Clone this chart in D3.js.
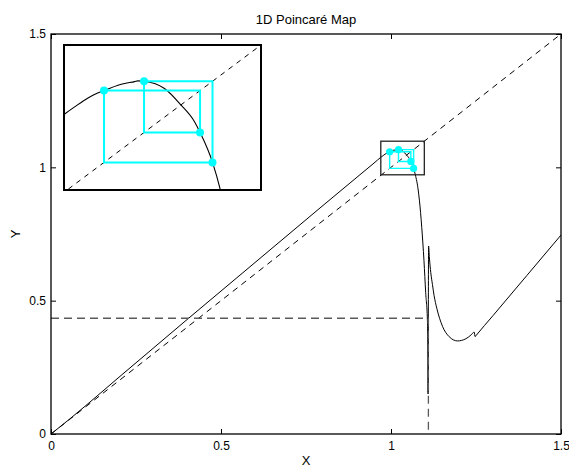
<!DOCTYPE html>
<html>
<head>
<meta charset="utf-8">
<script src="https://cdn.jsdelivr.net/npm/d3@7"></script>
<style>
  html, body { margin: 0; padding: 0; background: #fff; }
  svg { display: block; font-family: "Liberation Sans", Arial, Helvetica, sans-serif; }
</style>
</head>
<body>
<svg id="chart" width="569" height="470"></svg>
<script>
// Return map x_{n+1} = f(x_n), sampled along x
const mapX = [0, 0.05, 0.1, 0.2, 0.3, 0.4, 0.5, 0.6, 0.7, 0.8, 0.9, 0.95, 0.97, 0.9769, 0.9856,
  0.996, 1.0072, 1.0159, 1.018, 1.022, 1.0353, 1.0461, 1.0548, 1.0584, 1.0665, 1.0716, 1.080,
  1.087, 1.0904, 1.097, 1.102, 1.107, 1.1085, 1.109, 1.1105, 1.113, 1.117, 1.122, 1.1266, 1.135,
  1.1514, 1.171, 1.1956, 1.220, 1.235, 1.2446, 1.2475, 1.250, 1.30, 1.40, 1.5];
const mapY = [0, 0.051, 0.104, 0.213, 0.321, 0.429, 0.536, 0.643, 0.750, 0.857, 0.963, 1.016, 1.0376, 1.0442, 1.052,
  1.0584, 1.0639, 1.0662, 1.0668, 1.0665, 1.0602, 1.0457, 1.0313, 1.022, 0.996, 0.972, 0.915,
  0.83, 0.775, 0.65, 0.53, 0.43, 0.30, 0.15, 0.705, 0.66, 0.605, 0.56, 0.52, 0.47,
  0.404, 0.365, 0.349, 0.357, 0.371, 0.382, 0.365, 0.369, 0.444, 0.595, 0.746];

// Period-4 orbit, in visiting order (each value maps to the next)
const orbit = [0.996, 1.0584, 1.022, 1.0665];

// Magnified window around the orbit
const zoomX = [0.970, 1.098];
const zoomY = [0.972, 1.098];

// Dashed guide lines
const guideX = 1.11;
const guideY = 0.434;

const axisTicks = [0, 0.5, 1, 1.5];
const tickLabels = ["0", "0.5", "1", "1.5"];

const titleText = "1D Poincaré Map";
const xLabel = "X";
const yLabel = "Y";

// ---- layout ----
const plot = { left: 51, right: 561, top: 34, bottom: 434 };
const inset = { left: 64, right: 261, top: 45, bottom: 190 };

const svg = d3.select("#chart");

const x = d3.scaleLinear().domain([0, 1.5]).range([plot.left, plot.right]);
const y = d3.scaleLinear().domain([0, 1.5]).range([plot.bottom, plot.top]);

const defs = svg.append("defs");
defs.append("clipPath").attr("id", "clipMain").append("rect")
  .attr("x", plot.left).attr("y", plot.top)
  .attr("width", plot.right - plot.left).attr("height", plot.bottom - plot.top);
defs.append("clipPath").attr("id", "clipInset").append("rect")
  .attr("x", inset.left).attr("y", inset.top)
  .attr("width", inset.right - inset.left).attr("height", inset.bottom - inset.top);

const mapPoints = mapX.map((v, i) => [v, mapY[i]]);

// cobweb path through the orbit: (x0,x1)->(x1,x1)->(x1,x2)->...
function cobweb(o) {
  const pts = [];
  for (let i = 0; i < o.length; i++) {
    const a = o[i], b = o[(i + 1) % o.length], c = o[(i + 2) % o.length];
    if (i === 0) pts.push([a, b]);
    pts.push([b, b]);
    pts.push([b, c]);
  }
  return pts;
}
const orbitDots = orbit.map((v, i) => [v, orbit[(i + 1) % orbit.length]]);

function drawPanel(g, sx, sy, domX, opt) {
  // identity diagonal
  g.append("line")
    .attr("x1", sx(domX[0])).attr("y1", sy(domX[0]))
    .attr("x2", sx(domX[1])).attr("y2", sy(domX[1]))
    .attr("stroke", "#000").attr("stroke-width", opt.diagWidth)
    .attr("stroke-dasharray", opt.diagDash);

  const line = d3.line().x(d => sx(d[0])).y(d => sy(d[1])).curve(d3.curveMonotoneX);
  g.append("path").datum(mapPoints)
    .attr("d", line).attr("fill", "none")
    .attr("stroke", "#000").attr("stroke-width", opt.curveWidth);
}

// ---- main axes ----
const main = svg.append("g");
const mainPlot = main.append("g").attr("clip-path", "url(#clipMain)");

drawPanel(mainPlot, x, y, [0, 1.5], { diagWidth: 1, diagDash: "6,5", curveWidth: 1 });

// guide lines to the discontinuity
mainPlot.append("path")
  .attr("d", `M${x(0)},${y(guideY)}H${x(guideX)}V${y(0)}`)
  .attr("fill", "none").attr("stroke", "#5a5a5a").attr("stroke-width", 1.3)
  .attr("stroke-dasharray", "8,5");

// zoom window outline
mainPlot.append("rect")
  .attr("x", x(zoomX[0])).attr("y", y(zoomY[1]))
  .attr("width", x(zoomX[1]) - x(zoomX[0])).attr("height", y(zoomY[0]) - y(zoomY[1]))
  .attr("fill", "none").attr("stroke", "#222").attr("stroke-width", 1.3);

const lineMain = d3.line().x(d => x(d[0])).y(d => y(d[1]));
mainPlot.append("path").datum(cobweb(orbit))
  .attr("d", lineMain).attr("fill", "none")
  .attr("stroke", "#00ffff").attr("stroke-width", 1.4);
mainPlot.selectAll("circle.m").data(orbitDots).join("circle")
  .attr("class", "m")
  .attr("cx", d => x(d[0])).attr("cy", d => y(d[1])).attr("r", 3.6)
  .attr("fill", "#00ffff");

// axes with inward ticks on all four sides
function styleAxis(sel) {
  sel.select(".domain").remove();
  sel.selectAll(".tick line").attr("stroke", "#000").attr("stroke-width", 1);
  sel.selectAll(".tick text").attr("fill", "#000")
    .attr("font-size", 12).attr("font-family", "Liberation Sans, Arial, sans-serif");
}
main.append("g").attr("transform", `translate(0,${plot.bottom})`)
  .call(d3.axisBottom(x).tickValues(axisTicks).tickFormat((d, i) => tickLabels[i])
    .tickSizeInner(-5).tickSizeOuter(0).tickPadding(7))
  .call(styleAxis);
main.append("g").attr("transform", `translate(0,${plot.top})`)
  .call(d3.axisTop(x).tickValues(axisTicks).tickFormat("")
    .tickSizeInner(-5).tickSizeOuter(0))
  .call(styleAxis);
main.append("g").attr("transform", `translate(${plot.left},0)`)
  .call(d3.axisLeft(y).tickValues(axisTicks).tickFormat((d, i) => tickLabels[i])
    .tickSizeInner(-5).tickSizeOuter(0).tickPadding(5))
  .call(styleAxis);
main.append("g").attr("transform", `translate(${plot.right},0)`)
  .call(d3.axisRight(y).tickValues(axisTicks).tickFormat("")
    .tickSizeInner(-5).tickSizeOuter(0))
  .call(styleAxis);

main.append("rect")
  .attr("x", plot.left).attr("y", plot.top)
  .attr("width", plot.right - plot.left).attr("height", plot.bottom - plot.top)
  .attr("fill", "none").attr("stroke", "#000").attr("stroke-width", 1.3);

// ---- inset: magnified view of the period-4 orbit ----
const xi = d3.scaleLinear().domain(zoomX).range([inset.left, inset.right]);
const yi = d3.scaleLinear().domain(zoomY).range([inset.bottom, inset.top]);

const insetG = svg.append("g");
insetG.append("rect")
  .attr("x", inset.left).attr("y", inset.top)
  .attr("width", inset.right - inset.left).attr("height", inset.bottom - inset.top)
  .attr("fill", "#fff");
const insetPlot = insetG.append("g").attr("clip-path", "url(#clipInset)");
drawPanel(insetPlot, xi, yi, [0.9, 1.2], { diagWidth: 1, diagDash: "5,5", curveWidth: 1.1 });

const lineInset = d3.line().x(d => xi(d[0])).y(d => yi(d[1]));
insetPlot.append("path").datum(cobweb(orbit))
  .attr("d", lineInset).attr("fill", "none")
  .attr("stroke", "#00ffff").attr("stroke-width", 2);
insetPlot.selectAll("circle.i").data(orbitDots).join("circle")
  .attr("class", "i")
  .attr("cx", d => xi(d[0])).attr("cy", d => yi(d[1])).attr("r", 4)
  .attr("fill", "#00ffff");
insetG.append("rect")
  .attr("x", inset.left).attr("y", inset.top)
  .attr("width", inset.right - inset.left).attr("height", inset.bottom - inset.top)
  .attr("fill", "none").attr("stroke", "#000").attr("stroke-width", 2);

// ---- titles ----
svg.append("text").attr("x", (plot.left + plot.right) / 2).attr("y", 24)
  .attr("text-anchor", "middle").attr("font-size", 13).text(titleText);
svg.append("text").attr("x", (plot.left + plot.right) / 2).attr("y", 465)
  .attr("text-anchor", "middle").attr("font-size", 13).text(xLabel);
svg.append("text").attr("transform", `translate(20,${(plot.top + plot.bottom) / 2}) rotate(-90)`)
  .attr("text-anchor", "middle").attr("font-size", 13).text(yLabel);
</script>
</body>
</html>
